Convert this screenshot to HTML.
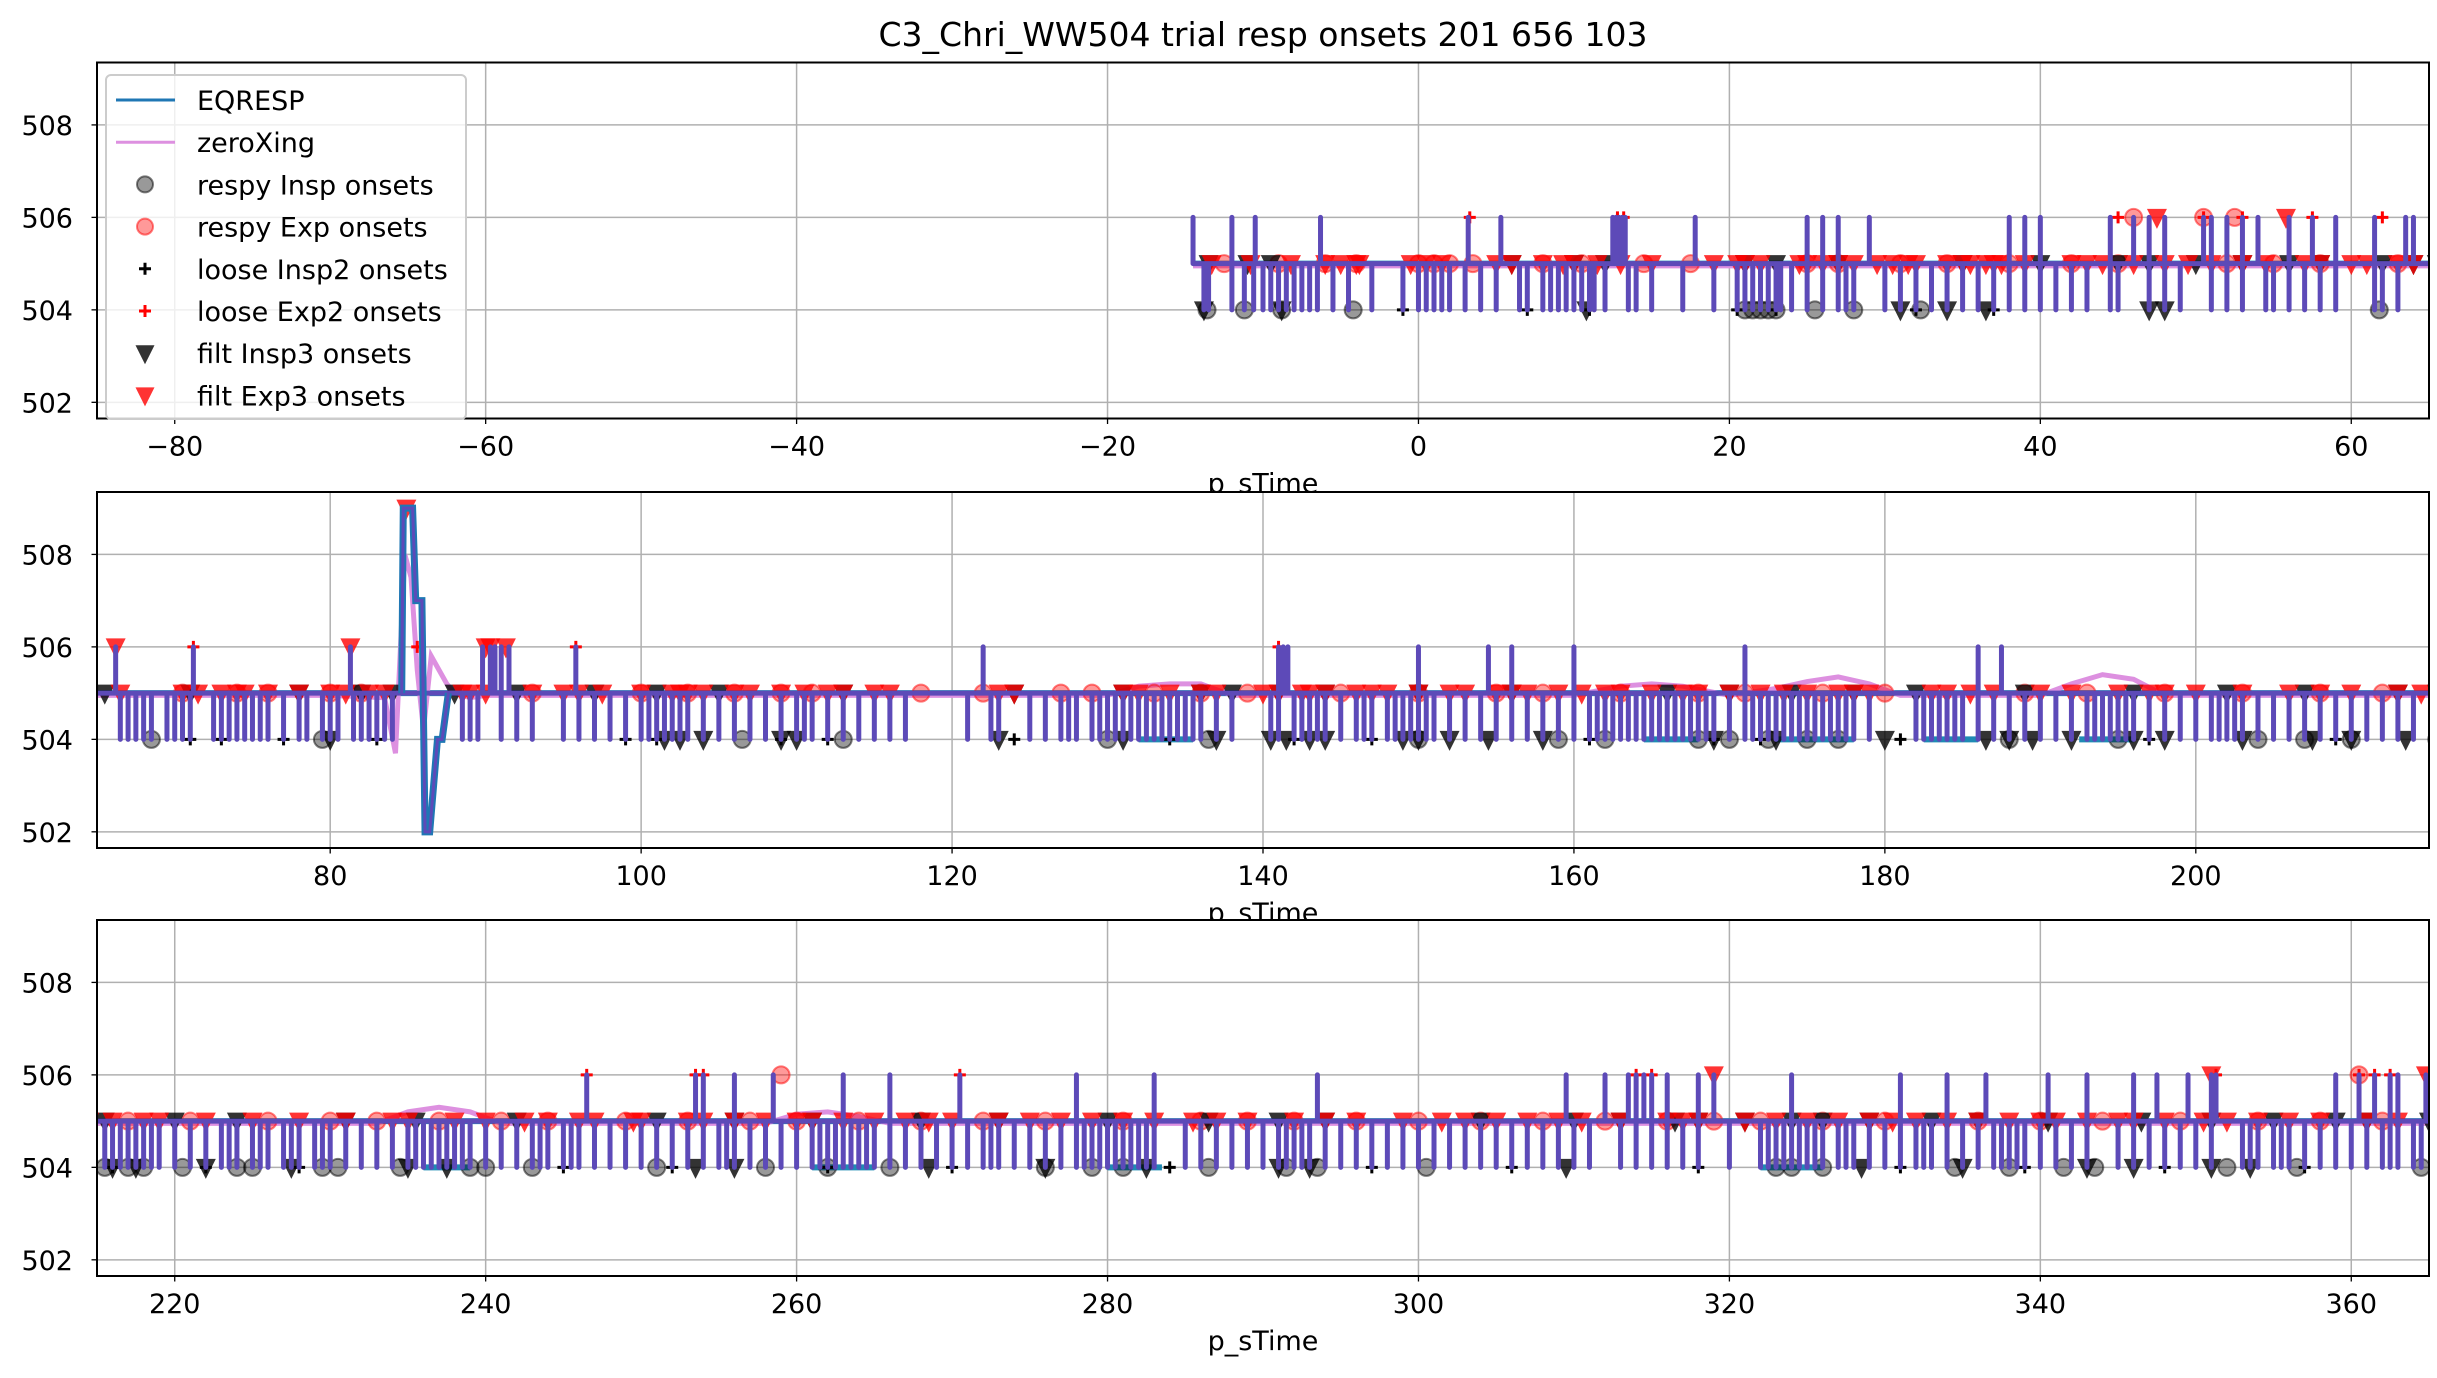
<!DOCTYPE html>
<html><head><meta charset="utf-8"><style>
html,body{margin:0;padding:0;background:#fff}
svg{display:block}
text{font-family:"DejaVu Sans","Liberation Sans",sans-serif;fill:#000}
</style></head>
<body>
<svg id="chart" width="2437" height="1378" viewBox="0 0 2437 1378" xmlns="http://www.w3.org/2000/svg">
<text x="1263" y="46" font-size="33" text-anchor="middle">C3_Chri_WW504 trial resp onsets 201 656 103</text>
<g id="root"></g>
</svg>
<script>
const panelStarts=[-85,65,215];
const panelSpan=150;
const yTicks=[502,504,506,508];
const xTicksP=[[-80,-60,-40,-20,0,20,40,60],[80,100,120,140,160,180,200],[220,240,260,280,300,320,340,360]];
const sigStart=-14.5;
const downT=[-13.8,-13.5,-12,-11.2,-10.6,-10,-9.5,-9,-8.5,-8,-7.5,-7,-6.5,-5.5,-4.5,-3,-1,0,0.5,1,1.5,2,3,4,5,6.5,7,8,8.5,9,9.5,10,10.5,11,11.3,12,13.5,14,15,17,19,20.5,21,21.5,22,22.5,23,23.3,24,25,26,27,27.5,28,30,31,32,33,34,35,36,37,38,39,40,41,42,43,44.5,45,47,48,49,51,52,53,54.5,55,56,57,58,59,61.5,62,63,
66.5,67,67.5,68,68.5,69.5,70,70.5,71,72.5,73,73.5,74,74.5,75,75.5,76,77,78,78.5,79.5,80,80.5,81.5,82,82.5,83,83.5,84,88.5,89,89.5,91,92,93,95,96,97,98,99,100,100.5,101,101.5,102,102.5,103,104,105,106,107,108,109,110,110.5,111,112,113,114,115,116,117,121,122.5,123,125,126,127,127.5,128,129,129.5,130,130.5,131,131.5,132,132.5,133,133.5,134,134.5,135,135.5,136,137,138,140.5,141,142,142.5,143,143.5,144,145,146,146.5,147,148,148.5,149,149.5,150,150.5,151,152,153,154,155,156,157,158,159,160,161,161.5,162,162.5,163,163.5,164,164.5,165,165.5,166,166.5,167,167.5,168,168.5,169,170,171,171.5,172,172.5,173,173.5,174,174.5,175,175.5,176,176.5,177,177.5,178,179,182,182.5,183,183.5,184,184.5,185,186,187,188,189,190,191,192,193,193.5,194,194.5,195,195.5,196,197,198,199,200,201,201.5,202,202.5,203,204,205,206,207,208,209,210,211,212,213,214,
215.5,216,216.5,217,217.5,218,218.5,219,220,221,222,223,223.5,224,225,225.5,226,227,227.5,228,229,229.5,230,231,232,233,234,235,235.5,236,236.5,237,237.5,238,238.5,239,240,241,242,243,243.5,244,245,245.5,246,247,248,249,250,251,252,253,254,255,255.5,256,257,258,259,260,261,261.5,262,262.5,263,263.5,264,264.5,265,266,267,268,269,270,271,272,272.5,273,274,275,276,277,278,278.5,279,279.5,280,280.5,281,281.5,282,282.5,283,285,286,287,288,289,290,291,291.5,292,292.5,293,294,295,296,297,298,299,300,301,302,303,304,305,306,307,308,309,310,311,313,314,315,316,317,318,320,322,322.5,323,323.5,324,324.5,325,325.5,326,327,327.5,328,329,330,331,332,332.5,333,334,335,336,337,337.5,338,338.5,339,340,341,342,343,345,346,347,348,349,350,351,353,353.5,354,355,355.5,356,357,358,359,360,361,362,362.5,363,364,364.5];
const upT=[-14.5,-12,-10.5,-6.3,3.2,5.3,12.5,12.7,12.9,13.1,13.3,17.8,25,26,27,29,38,39,40,44.5,46,47,48,50.5,51,52,53,54,56,57.5,59,61.5,63.5,64,
66.2,71.2,81.3,89.8,90.3,90.6,91,91.5,95.8,122,141,141.3,141.6,150,154.5,156,160,171,186,187.5,
246.5,253.5,254,256,258.5,263,266,270.5,278,283,293.5,309.5,312,313.5,314,314.5,315,316,318,319,324,331,334,336.5,340.5,343,346,347.5,349.5,351,351.3,359,360.5,361.5,362.5,363,364.8];
const eventT=[84.6,84.7,85.3,85.5,85.9,86.1,86.4,86.9,87.2,87.6];
const eventV=[505,509,509,507,507,502,502,504,504,505];
const zxT=[-14.5,20,60,65,80,83.5,84.2,84.8,85.2,85.6,86,86.5,87,87.5,88,89,90,100,130,132,134,136,138,160,163,165,167,170,173,175,177,179,181,190,192,194,196,198,215,233,235,237,239,241,258,260,262,264,266,300,365];
const zxV=[504.95,504.95,504.95,504.95,504.95,504.9,503.7,508,507.5,505.5,504.2,505.8,505.5,505.2,505,504.9,504.95,504.95,504.95,505.15,505.2,505.2,504.95,504.95,505.15,505.2,505.15,504.95,505.1,505.25,505.35,505.2,504.95,504.95,505.2,505.4,505.3,504.95,504.95,504.95,505.2,505.3,505.2,504.95,504.95,505.15,505.2,505.1,504.95,504.95,504.95];
const blueLowStart=[132,164.5,173,182.5,192.5,236,261,280,322];
const blueLowEnd=[135.5,168,178,186,196,239,265,283.5,326];
const inspCircT=[-13.6,-11.2,-8.8,-4.2,21,21.5,22,22.5,23,25.5,28,32.3,61.8,68.5,79.5,106.5,113,130,136.5,150,159,162,168,170,172.5,175,177,188,195,204,207,210,215.5,217,218,220.5,224,225,229.5,230.5,234.5,239,240,243,251,258,262,266,276,279,281,286.5,291.5,293.5,300.5,323,324,326,334.5,338,341.5,343.5,352,356.5,364.5];
const expCircT=[-12.5,-9,-6,-4,0,1,2,3.5,8,10.5,14.5,17.5,25,27,31,34,38,42,45,52,55,58,63,70.5,74,76,80,82,93,100,103,106,109,111,118,122,127,129,133,136,139,145,150,155,158,163,168,171,176,180,189,193,198,203,208,212,217,221,226,230,233,237,241,244,249,253,257,260,264,268,272,276,281,286,289,292,296,300,304,308,312,316,319,322,326,330,336,340,344,349,354,358,362];
const expCircHiT=[46,50.5,52.5,259,360.5];
const filtExpT=[-13.3,-10.8,-8.2,-6,-5,-4,-3.8,-0.5,0.5,1.5,5,6,8,9.3,10,11.5,13,15,19,20.5,21,22,24.5,25,26,27,28,29.5,30.5,31.5,32,34,35,35.5,36.5,37,37.5,39,42,43,44,46,48,49.5,51,53,54.5,57,58,60,61,63,64,
66.5,70.5,71.5,73,74,74.5,76,78,80,81,82.5,83.5,88.5,89,90,93,95,96,97.5,100,102,102.5,103,104,106,107,109,110.5,112,113,115,116,123,124,131,132,134,136,137,140,141,142.5,143,144,146,147,148,150,152,153,155,156,157,159,160.5,162,163,165,167,168,170,172,173.5,175,177,178,179,183,184,185.5,187,190,192,195,197,198,200,203,206,208,210,213,214.5,
216,218,219,222,225,228,231,234,235,238,240,242.5,244,246,247,249.5,250,253,254,256,258,260,261,263,265,267,268.5,270,273,275,277,279,281,283,285.5,287,289,292,294,296,299,301.5,303,305,307,309,310.5,313,316,317,318,321,323,325,327,329,330.5,332,334,336,338,340,341,343,345,346,348,350.5,352,354,356,358,361,363];
const filtExpHiT=[47.5,55.8,66.2,81.3,90,90.3,91.3,319,351,364.8];
const filtInspT=[-13.5,-11,-9.5,6,10,12,21,23,27,35,40,45,47,50,53,56,58,62,64,65.5,71,78,82,84,88,92,97,101,105,113,124,131,136,138,141,144,150,156,166,170,174,178,182,189,196,202,207,213,215.5,220,224,231,235.5,242,251,256,261,268,273,280,286.5,291,294,304,310,313,316.5,318,321,324,326,329,333,336,340.5,346.5,351,355,359,361,365];
const filtInspLoT=[-13.8,-8.8,10.8,31,34,36.5,47,48,80,101.5,102.5,104,109,110,123,131,137,140.5,141.5,143,144,149,150,152,154.5,158,169,173,180,186.5,188,189.5,192,196,198,203,207.5,210,213.5,216,217.5,222,227.5,235,237.5,253.5,256,268.5,276,282.5,291,293,309.5,328.5,335,343,346,351,353.5];
const looseInspT=[-1,7,11,20.5,23,32,37,71,73,77,83,99,101,109,112,124,134,142,147,161,169,172,181,197,209,216,222,228,245,252,262,270,284,297,306,318,331,339,348,357];
const looseExpT=[3.3,12.8,13.2,45,50.5,53,57.5,62,71.2,85.6,95.8,141,246.5,253.5,254,270.5,314,315,351.3,360.5,361.5,362.5];

const NS='http://www.w3.org/2000/svg';
const root=document.getElementById('root');
const L=97,R=2429,H=356,W=R-L;
const tops=[62.5,492,920];
const Y0=501.65,Y1=509.35;
const FS=27;
function mk(tag,attrs,parent){const e=document.createElementNS(NS,tag);for(const k in attrs)e.setAttribute(k,attrs[k]);(parent||root).appendChild(e);return e;}

panelStarts.forEach((x0,pi)=>{
  const top=tops[pi];
  const xs=t=>L+(t-x0)/panelSpan*W;
  const ys=v=>top+H-(v-Y0)/(Y1-Y0)*H;
  const inP=t=>t>=x0-1&&t<=x0+panelSpan+1;
  const g=mk('g',{});
  
  
  const bg=mk('rect',{x:L,y:top,width:W,height:H,fill:'#fff'},g);
  
  
  const cp=mk('clipPath',{id:'cp'+pi},g);
  mk('rect',{x:L,y:top,width:W,height:H},cp);
  xTicksP[pi].forEach(t=>{
    const gl=mk('line',{x1:xs(t),x2:xs(t),y1:top,y2:top+H,stroke:'#b0b0b0','stroke-width':1.5},g);
    
    
    mk('line',{x1:xs(t),x2:xs(t),y1:top+H,y2:top+H+5.5,stroke:'#000','stroke-width':1.3},g);
    const tl=mk('text',{x:xs(t),y:top+H+37,'font-size':FS,'text-anchor':'middle'},g);
    tl.textContent=(t<0?'\u2212'+(-t):''+t);
    
    
  });
  yTicks.forEach(v=>{
    const gl=mk('line',{x1:L,x2:R,y1:ys(v),y2:ys(v),stroke:'#b0b0b0','stroke-width':1.5},g);
    
    
    mk('line',{x1:L-5.5,x2:L,y1:ys(v),y2:ys(v),stroke:'#000','stroke-width':1.3},g);
    const tl=mk('text',{x:L-24,y:ys(v)+10,'font-size':FS,'text-anchor':'end'},g);
    tl.textContent=v;
    
    
  });
  const cg=mk('g',{'clip-path':'url(#cp'+pi+')'},g);
  const s0=Math.max(sigStart,x0-1);
  let bd='M'+xs(s0)+' '+ys(505)+'H'+xs(x0+panelSpan+1);
  blueLowStart.forEach((a,i)=>{if(inP(a))bd+='M'+xs(a)+' '+ys(504)+'H'+xs(blueLowEnd[i]);});
  const bl=mk('path',{d:bd,stroke:'#1f8ab4','stroke-width':6,fill:'none'},cg);
  
  
  let zd='';
  zxT.forEach((t,i)=>{zd+=(i?'L':'M')+xs(t)+' '+ys(zxV[i]);});
  const zl=mk('path',{d:zd,stroke:'#dd90e0','stroke-width':5,fill:'none'},cg);
  
  
  const circ=(t,v,fill,name)=>{const c=mk('circle',{cx:xs(t),cy:ys(v),r:8.5,fill:fill,'fill-opacity':0.4,stroke:fill,'stroke-opacity':0.5,'stroke-width':2},cg);};
  const tri=(t,v,fill,name)=>{const x=xs(t),y=ys(v);const p=mk('polygon',{points:(x-10)+','+(y-8.5)+' '+(x+10)+','+(y-8.5)+' '+x+','+(y+11.5),fill:fill,'fill-opacity':0.8},cg);};
  const plus=(t,v,col,name)=>{const x=xs(t),y=ys(v);const p=mk('path',{d:'M'+(x-6)+' '+y+'H'+(x+6)+'M'+x+' '+(y-6)+'V'+(y+6),stroke:col,'stroke-width':3},cg);};
  inspCircT.filter(inP).forEach(t=>circ(t,504,'#000','respy-insp-onset'));
  expCircT.filter(inP).forEach(t=>circ(t,505,'#ff0000','respy-exp-onset'));
  expCircHiT.filter(inP).forEach(t=>circ(t,506,'#ff0000','respy-exp-onset'));
  looseInspT.filter(inP).forEach(t=>plus(t,504,'#000','loose-insp-onset'));
  looseExpT.filter(inP).forEach(t=>plus(t,506,'#ff0000','loose-exp-onset'));
  filtInspT.filter(inP).forEach(t=>tri(t,505,'#000','filt-insp-onset'));
  filtInspLoT.filter(inP).forEach(t=>tri(t,504,'#000','filt-insp-onset'));
  filtExpT.filter(inP).forEach(t=>tri(t,505,'#ff0000','filt-exp-onset'));
  filtExpHiT.filter(inP).forEach(t=>tri(t,506,'#ff0000','filt-exp-onset'));
  if(pi===1)tri(84.9,509,'#ff0000','filt-exp-onset');
  let pd='M'+xs(s0)+' '+ys(505)+'H'+xs(x0+panelSpan+1);
  downT.filter(inP).forEach(t=>{pd+='M'+xs(t)+' '+ys(505)+'V'+ys(504);});
  upT.filter(inP).forEach(t=>{pd+='M'+xs(t)+' '+ys(505)+'V'+ys(506);});
  const pl=mk('path',{d:pd,stroke:'#5d4ab8','stroke-width':5,fill:'none','stroke-linecap':'round'},cg);
  
  
  if(pi===1){
    let ed='';eventT.forEach((t,i)=>{ed+=(i?'L':'M')+xs(t)+' '+ys(eventV[i]);});
    const el=mk('path',{d:ed,stroke:'#1f77b4','stroke-width':7,fill:'none'},cg);
    
    
    const el2=mk('path',{d:ed,stroke:'#5d4ab8','stroke-width':3,fill:'none'},cg);
    
    
  }
  const fr=mk('rect',{x:L,y:top,width:W,height:H,fill:'none',stroke:'#000','stroke-width':2},g);
  
  
  const xl=mk('text',{x:(L+R)/2,y:top+H+74,'font-size':FS,'text-anchor':'middle'},g);
  xl.textContent='p_sTime';
  
  
});

const lg=mk('g',{});


mk('rect',{x:106,y:75,width:360,height:344,rx:5,fill:'#fff','fill-opacity':0.8,stroke:'#ccc','stroke-width':2},lg);
const labels=['EQRESP','zeroXing','respy Insp onsets','respy Exp onsets','loose Insp2 onsets','loose Exp2 onsets','filt Insp3 onsets','filt Exp3 onsets'];
labels.forEach((lab,i)=>{
  const y=100+i*42.2;
  const e=mk('g',{},lg);
  
  
  if(i===0)mk('line',{x1:116,x2:175,y1:y,y2:y,stroke:'#1f77b4','stroke-width':3},e);
  if(i===1)mk('line',{x1:116,x2:175,y1:y,y2:y,stroke:'#dd90e0','stroke-width':3},e);
  if(i===2)mk('circle',{cx:145,cy:y,r:8,fill:'#000','fill-opacity':0.4,stroke:'#000','stroke-opacity':0.5,'stroke-width':2},e);
  if(i===3)mk('circle',{cx:145,cy:y,r:8,fill:'#ff0000','fill-opacity':0.4,stroke:'#ff0000','stroke-opacity':0.5,'stroke-width':2},e);
  if(i===4)mk('path',{d:'M139 '+y+'H151M145 '+(y-6)+'V'+(y+6),stroke:'#000','stroke-width':3},e);
  if(i===5)mk('path',{d:'M139 '+y+'H151M145 '+(y-6)+'V'+(y+6),stroke:'#ff0000','stroke-width':3},e);
  if(i===6)mk('polygon',{points:'135.5,'+(y-8)+' 154.5,'+(y-8)+' 145,'+(y+11),fill:'#000','fill-opacity':0.8},e);
  if(i===7)mk('polygon',{points:'135.5,'+(y-8)+' 154.5,'+(y-8)+' 145,'+(y+11),fill:'#ff0000','fill-opacity':0.8},e);
  const t=mk('text',{x:197,y:y+10,'font-size':FS},e);
  t.textContent=lab;
});
</script>
</body></html>
